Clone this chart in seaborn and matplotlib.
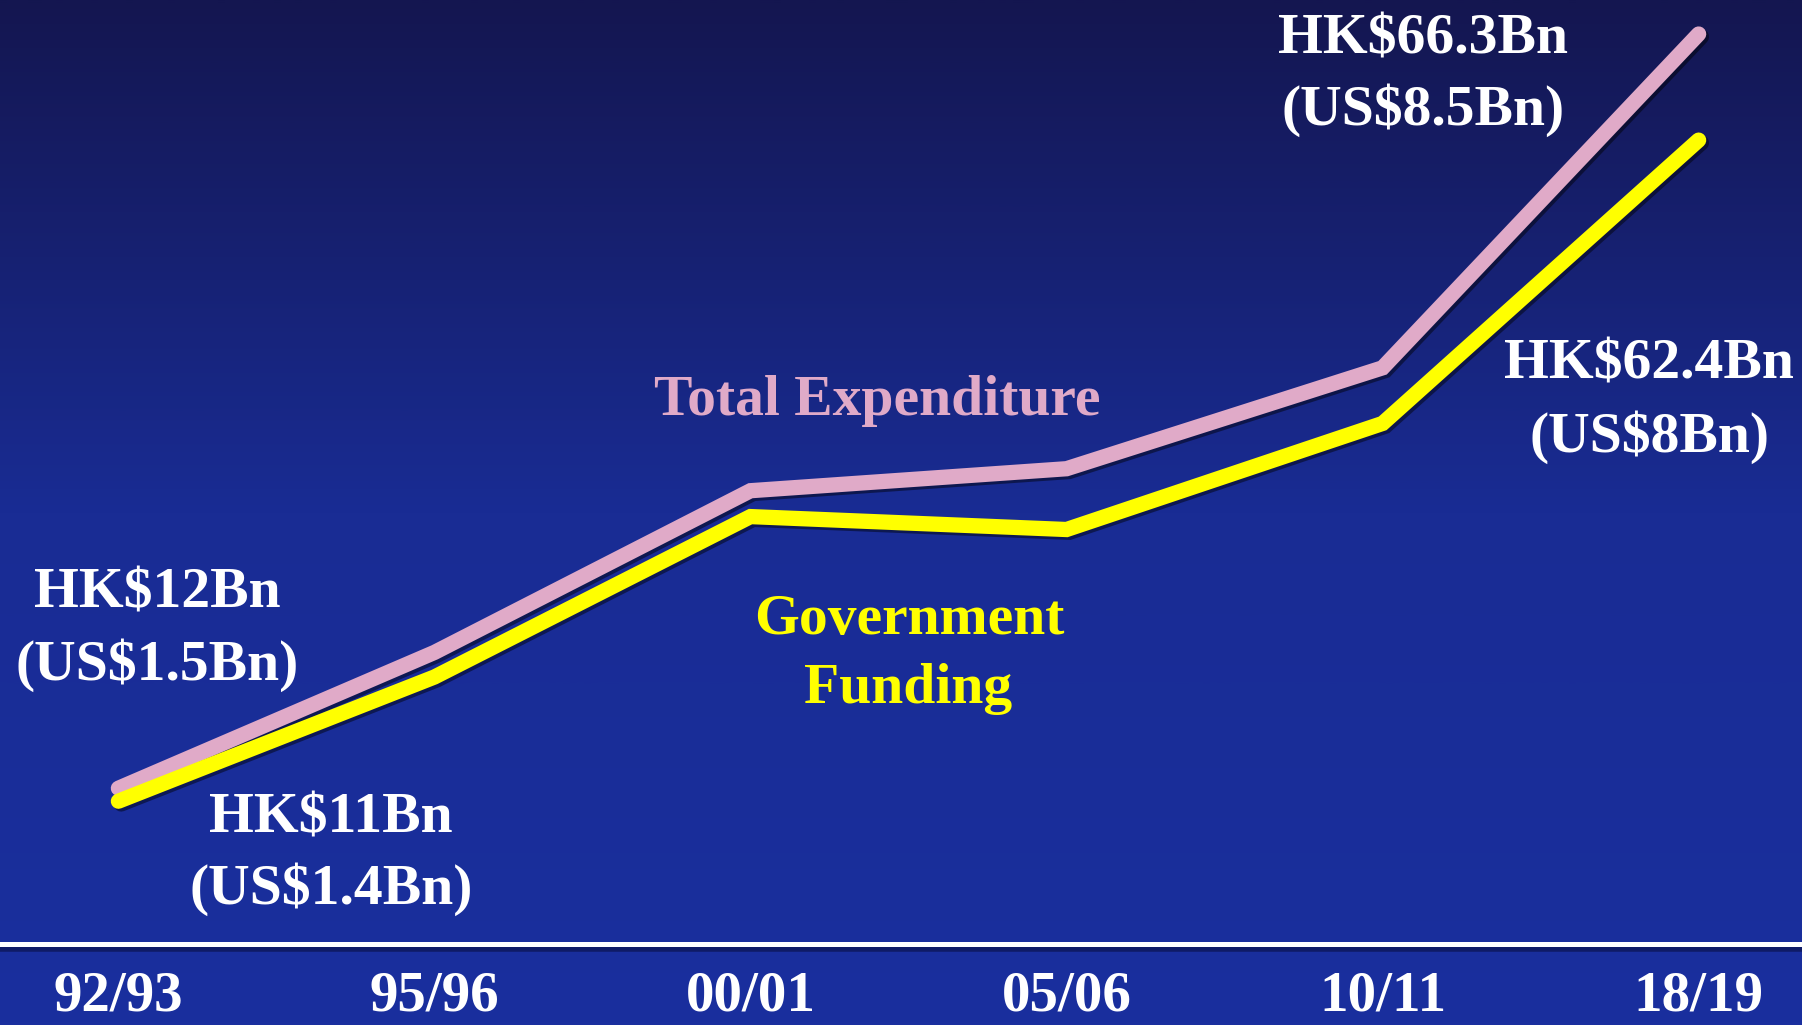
import matplotlib
matplotlib.use("Agg")
import matplotlib.pyplot as plt
import matplotlib.patheffects as pe
from matplotlib.colors import LinearSegmentedColormap
from matplotlib.lines import Line2D
import numpy as np
import pandas as pd
import seaborn as sns

# financial years on the x axis
years = ["92/93", "95/96", "00/01", "05/06", "10/11", "18/19"]
# plotted heights (HK$ Bn, as drawn)
total_expenditure = [12.0, 22.5, 35.0, 36.7, 44.5, 70.3]
government_funding = [11.0, 20.6, 33.0, 32.0, 40.2, 62.1]

# annotation texts
total_label = "Total Expenditure"
funding_label = ["Government", "Funding"]
start_total = ["HK$12Bn", "(US$1.5Bn)"]
start_funding = ["HK$11Bn", "(US$1.4Bn)"]
end_total = ["HK$66.3Bn", "(US$8.5Bn)"]
end_funding = ["HK$62.4Bn", "(US$8Bn)"]

PINK = "#e0aac8"
YELLOW = "#ffff00"
W, H = 1568.0, 892.0  # layout measured on the shrunk reference

sns.set_theme(style="white")
plt.rcParams["font.family"] = ["Liberation Serif", "DejaVu Serif"]
plt.rcParams["font.weight"] = "bold"

fig = plt.figure(figsize=(18.02, 10.25), dpi=100)

# background gradient
bg = fig.add_axes([0, 0, 1, 1], zorder=-10)
cmap = LinearSegmentedColormap.from_list("bg", ["#1a2f9e", "#192c94", "#141650"])
grad = np.linspace(0, 1, 512).reshape(-1, 1)
bg.imshow(grad, aspect="auto", cmap=cmap, origin="lower", extent=[0, 1, 0, 1])
bg.set_axis_off()
# soft shadow under the axis line
bg.add_line(Line2D([0, 1], [0.0745, 0.0745], color="#0c1450", lw=4, alpha=0.7))

ax = fig.add_axes([0, 0.0795, 1, 0.9205])
ax.set_facecolor("none")

df = pd.DataFrame({"idx": range(len(years)), "total": total_expenditure,
                   "funding": government_funding})

shadow = [pe.SimpleLineShadow(offset=(2, -2), shadow_color="black", alpha=0.45), pe.Normal()]
sns.lineplot(data=df, x="idx", y="total", color=PINK, lw=11, ax=ax,
             solid_capstyle="round", solid_joinstyle="miter", path_effects=shadow)
sns.lineplot(data=df, x="idx", y="funding", color=YELLOW, lw=11, ax=ax,
             solid_capstyle="round", solid_joinstyle="miter", path_effects=shadow)

ax.set_xlim(-0.3746, 5.327)
ax.set_ylim(0, 72.93)
ax.set_xticks(range(len(years)))
ax.set_xticklabels(years, fontsize=41, fontweight="bold", color="white")
ax.set_yticks([])
ax.tick_params(axis="x", length=0, pad=19.5)
ax.set_xlabel("")
ax.set_ylabel("")
for side in ["top", "left", "right"]:
    ax.spines[side].set_visible(False)
ax.spines["bottom"].set_color("white")
ax.spines["bottom"].set_linewidth(3.6)


def put(txt, x, y, color="white"):
    fig.text(x / W, 1 - y / H, txt, ha="center", va="baseline", fontsize=41.5,
             fontweight="bold", color=color)


put(end_total[0], 1238, 46.5)
put(end_total[1], 1238, 108.5)
put(total_label, 763, 361.5, PINK)
put(end_funding[0], 1435, 329.5)
put(end_funding[1], 1435, 393.5)
put(start_total[0], 137, 528.5)
put(start_total[1], 137, 591.5)
put(funding_label[0], 791, 551.5, YELLOW)
put(funding_label[1], 790, 611.5, YELLOW)
put(start_funding[0], 288, 724.5)
put(start_funding[1], 288, 786.5)

fig.savefig("out.png", dpi=100)
